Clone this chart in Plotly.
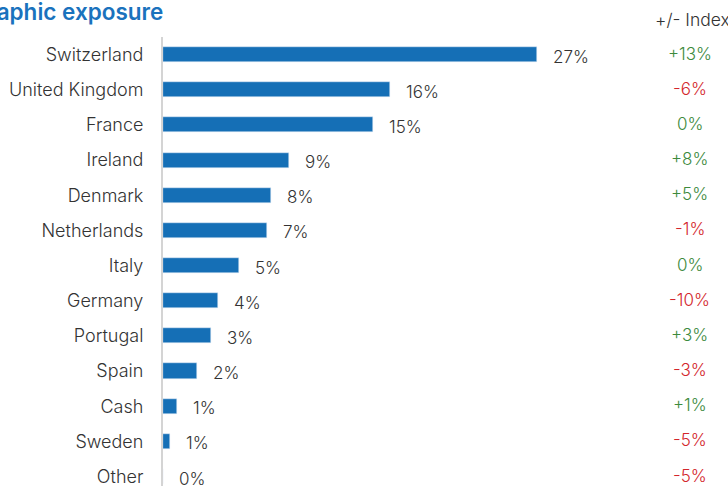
import plotly.graph_objects as go

countries = ['Switzerland', 'United Kingdom', 'France', 'Ireland', 'Denmark',
             'Netherlands', 'Italy', 'Germany', 'Portugal', 'Spain', 'Cash',
             'Sweden', 'Other']
weights = [26.7, 16.2, 15.0, 9.0, 7.7, 7.4, 5.4, 3.9, 3.4, 2.4, 1.0, 0.5, 0.0]
weight_labels = ['27%', '16%', '15%', '9%', '8%', '7%', '5%', '4%', '3%',
                 '2%', '1%', '1%', '0%']
vs_index = ['+13%', '-6%', '0%', '+8%', '+5%', '-1%', '0%', '-10%', '+3%',
            '-3%', '+1%', '-5%', '-5%']

BLUE = '#156fb6'
GREEN = '#3d8a3d'
RED = '#d3262c'
TXT = '#333333'
FONT = 'Inter'

fig = go.Figure()
fig.add_bar(y=countries, x=weights, orientation='h', marker_color=BLUE,
            width=0.43, hoverinfo='skip')

# value labels next to each bar
for c, w, lab in zip(countries, weights, weight_labels):
    fig.add_annotation(x=w, y=c, xref='x', yref='y', text=lab, showarrow=False,
                       xanchor='left', xshift=14, yshift=-2,
                       font=dict(size=17, color=TXT, family=FONT, weight=300))

# relative to index column
def idx_color(s):
    if s.startswith('-'):
        return RED
    return GREEN

for c, s in zip(countries, vs_index):
    fig.add_annotation(x=1.153, y=c, xref='paper', yref='y', text=s,
                       showarrow=False, xanchor='center', yshift=1,
                       font=dict(size=17, color=idx_color(s), family=FONT,
                                 weight=300))

fig.add_annotation(x=1.072, y=1.040, xref='paper', yref='paper',
                   text='+/- Index', showarrow=False, xanchor='left',
                   yanchor='middle',
                   font=dict(size=17.5, color=TXT, family=FONT, weight=300))

fig.add_annotation(x=0, y=1.057, xref='paper', yref='paper',
                   text='Geographic exposure', showarrow=False,
                   xanchor='right', xshift=2, yanchor='middle',
                   font=dict(size=22.5, color='#1a72bd', family=FONT,
                             weight=600))

fig.update_xaxes(range=[0, 32.6], visible=False, fixedrange=True)
fig.update_yaxes(range=[12.27, -0.5], autorange=False, showline=True,
                 linecolor='#d4d4d4', linewidth=2, ticks='',
                 ticklabelstandoff=14, showgrid=False, zeroline=False,
                 tickfont=dict(size=18, color=TXT, family=FONT, weight=300))

fig.update_layout(width=728, height=486,
                  margin=dict(l=163, r=108, t=37, b=0, autoexpand=False),
                  plot_bgcolor='white', paper_bgcolor='white',
                  showlegend=False, bargap=0)

# drop the default page margin so the figure sits at the window corner
fig.write_html('out.html', config={'displayModeBar': False},
               post_script="document.body.style.margin='0';")
